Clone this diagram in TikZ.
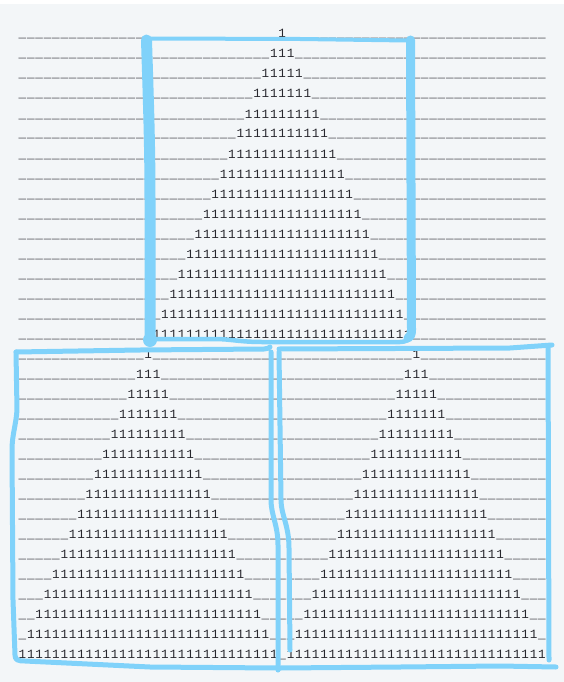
\documentclass[tikz,border=0pt]{standalone}
\usepackage{fontspec}
\newfontfamily\gridfont[LetterSpace=6.5]{Liberation Mono}
\definecolor{bgcol}{RGB}{243,246,248}
\definecolor{gridtext}{RGB}{40,40,46}
\definecolor{penblue}{RGB}{128,210,250}
\ExplSyntaxOn
\NewDocumentCommand\trirow{mmm}{\prg_replicate:nn{#1}{\_}\prg_replicate:nn{#2}{1}\prg_replicate:nn{#3}{\_}}
\ExplSyntaxOff
\tikzset{
  rowtext/.style={anchor=base west, inner sep=0pt, text=gridtext,
    font=\gridfont\fontsize{12.6}{15}\selectfont},
  pen/.style={draw=penblue, line cap=round, line join=round},
}
\begin{document}
\begin{tikzpicture}[x=1pt,y=-1pt]
\useasboundingbox (0,0) rectangle (564,682);
\fill[bgcol] (0,0) rectangle (564,682);
\fill[white] (0,0) rectangle (564,4);
% top triangle rows
\foreach \i in {0,...,15}{
  \node[rowtext] (top\i) at (18.5,{38+20*\i}) {\trirow{31-\i}{2*\i+1}{31-\i}};
}
% bottom two triangles
\foreach \j in {0,...,15}{
  \node[rowtext] (bot\j) at (18.5,{358+20*\j}) {\trirow{15-\j}{2*\j+1}{15-\j}\_\trirow{15-\j}{2*\j+1}{15-\j}};
}
% top rectangle
\draw[pen, line width=4] (150,38.5) -- (300,39) -- (407,40.5);
\draw[pen, line width=11] (146.5,40) .. controls (148,90) and (150,140) .. (150,200) -- (150,340);
\fill[penblue] (150,340) circle (7);
\draw[pen, line width=9] (410.5,40) -- (411.5,330) .. controls (411.5,335) and (410,337) .. (408,338);
\draw[pen, line width=4.5] (150,339) -- (215,339) .. controls (230,339) and (240,342) .. (262,342) -- (400,342) .. controls (405,342) and (409,340) .. (411,337);
% bottom-left rectangle
\draw[pen, line width=5] (16,352) -- (140,350) -- (264,349) .. controls (267,349) and (269,348) .. (270,347);
\draw[pen, line width=5] (16,352) -- (17,410) .. controls (16,425) and (12,435) .. (12,450) -- (13,600) -- (15,655) .. controls (15,660) and (18,661) .. (25,661) -- (150,667) -- (278,668);
\draw[pen, line width=5] (271,352) -- (271,500) .. controls (271,515) and (278,525) .. (278,545) -- (278,670);
% bottom-right rectangle
\draw[pen, line width=5] (279,352) -- (281,500) .. controls (281,515) and (289,525) .. (289,548) -- (290,650);
\draw[pen, line width=5] (279,349) -- (510,348) -- (552,345);
\draw[pen, line width=5] (548,346) -- (549,660);
\draw[pen, line width=5] (280,668) -- (400,667) -- (500,666) -- (556,667);
\end{tikzpicture}
\end{document}
